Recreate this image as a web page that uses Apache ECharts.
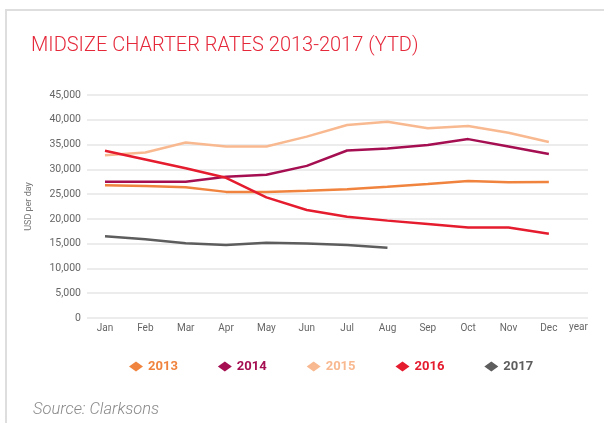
<!DOCTYPE html>
<html>
<head>
<meta charset="utf-8">
<title>Midsize charter rates 2013-2017 (YTD)</title>
<script src="https://cdn.jsdelivr.net/npm/echarts@6/dist/echarts.min.js"></script>
<style>
  html, body { margin: 0; padding: 0; background: #fff; }
  .wrap { position: relative; width: 604px; height: 423px; overflow: hidden; }
  .frame { position: absolute; left: 5px; top: 9px; right: 0; bottom: 0; border-left: 2px solid #dedede; border-top: 2px solid #dedede; }
  #chart { position: absolute; left: 0; top: 0; width: 604px; height: 423px; }
</style>
</head>
<body>
<div class="wrap">
  <div class="frame"></div>
  <div id="chart"></div>
</div>
<script>
// values, USD per day
const months = ['Jan', 'Feb', 'Mar', 'Apr', 'May', 'Jun', 'Jul', 'Aug', 'Sep', 'Oct', 'Nov', 'Dec']
const years = ['2013', '2014', '2015', '2016', '2017']
const rates2013 = [26800, 26650, 26400, 25450, 25450, 25700, 26000, 26500, 27050, 27650, 27400, 27450]
const rates2014 = [27500, 27500, 27500, 28500, 28900, 30700, 33800, 34200, 34900, 36100, 34600, 33100]
const rates2015 = [32850, 33400, 35400, 34600, 34600, 36600, 38950, 39600, 38300, 38750, 37400, 35500]
const rates2016 = [33750, 32000, 30200, 28300, 24350, 21800, 20450, 19650, 18950, 18250, 18250, 17000]
const rates2017 = [16500, 15900, 15100, 14750, 15200, 15050, 14750, 14200]
const yTicks = [0, 5000, 10000, 15000, 20000, 25000, 30000, 35000, 40000, 45000]

const colors = ['#f0843f', '#a50f52', '#f9b990', '#e51b2e', '#5d5d5d']
const allRates = [rates2013, rates2014, rates2015, rates2016, rates2017]
const font = 'Roboto, "Noto Sans", sans-serif'

const chart = echarts.init(document.getElementById('chart'), null, { renderer: 'canvas' })

const series = years.map((y, i) => ({
  name: y,
  type: 'line',
  data: allRates[i].map((v, m) => [m, v]),
  showSymbol: false,
  symbol: 'none',
  lineStyle: { width: 2.5, color: colors[i] },
  itemStyle: { color: colors[i] },
  emphasis: { disabled: true }
}))

chart.setOption({
  animation: false,
  textStyle: { fontFamily: font },
  title: [
    {
      text: 'MIDSIZE CHARTER RATES 2013-2017 (YTD)',
      left: 26, top: 31,
      textStyle: { color: '#e5283a', fontSize: 20, fontWeight: 300, fontFamily: font }
    },
    {
      text: 'Source: Clarksons',
      left: 28, top: 396,
      textStyle: { color: '#8a8a8a', fontSize: 16.5, fontWeight: 300, fontStyle: 'italic', fontFamily: font }
    }
  ],
  legend: {
    left: 124, top: 355,
    icon: 'diamond',
    itemWidth: 14, itemHeight: 10, itemGap: 40,
    selectedMode: false,
    textStyle: { fontSize: 13, fontWeight: 'bold', fontFamily: font },
    data: years.map((y, i) => ({ name: y, textStyle: { color: colors[i] } }))
  },
  grid: { left: 87, right: 16, top: 95, bottom: 105, containLabel: false },
  xAxis: {
    type: 'value',
    min: -0.446,
    max: 11.97,
    name: 'year',
    nameLocation: 'end',
    nameGap: -19,
    nameTextStyle: { color: '#666', fontSize: 10, verticalAlign: 'top', padding: [4, 0, 0, 0] },
    axisLine: { show: false },
    axisTick: { show: false },
    splitLine: { show: false },
    axisLabel: {
      customValues: months.map((m, i) => i),
      formatter: v => months[Math.round(v)],
      color: '#666', fontSize: 10, margin: 5
    }
  },
  yAxis: {
    type: 'value',
    min: yTicks[0],
    max: yTicks[yTicks.length - 1],
    interval: 5000,
    name: 'USD per day',
    nameLocation: 'middle',
    nameGap: 54,
    nameTextStyle: { color: '#777', fontSize: 9 },
    axisLine: { show: false },
    axisTick: { show: false },
    axisLabel: {
      formatter: v => v.toLocaleString('en-US'),
      color: '#666', fontSize: 10.5, margin: 6
    },
    splitLine: { lineStyle: { color: '#e6e6e6', width: 1.5 } }
  },
  series
})
</script>
</body>
</html>
